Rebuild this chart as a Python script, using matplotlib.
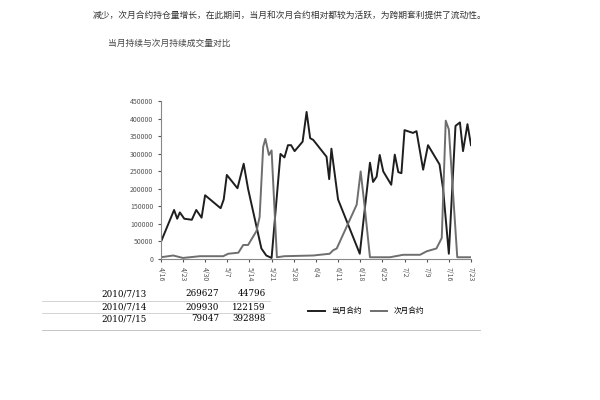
import matplotlib.pyplot as plt

plt.rcParams['font.family'] = ['Noto Sans CJK SC', 'DejaVu Sans']

# 当月合约 (trading-day index, volume)
cur_x = [0, 3, 3.7, 4.3, 5.3, 7, 8, 9.2, 10, 13.5, 14.2, 14.9, 17.3, 18.7, 19.7, 22.7, 23.8, 25,
         27, 27.9, 28.7, 29.4, 30.2, 32, 32.9, 33.7, 34.4, 37.4, 38, 38.5, 40, 44.9, 47.2, 47.9,
         48.7, 49.4, 50.2, 52, 52.8, 53.6, 54.3, 55, 56.9, 57.7, 59.2, 60.3, 62.9, 63.7, 65,
         66.5, 67.5, 68.2, 69.2, 70]
cur_y = [48, 140, 115, 133, 115, 112, 140, 118, 182, 145, 170, 240, 202, 272, 200, 30, 10, 3,
         300, 290, 325, 325, 308, 335, 420, 345, 340, 292, 228, 315, 170, 15, 275, 220,
         235, 297, 250, 212, 298, 248, 245, 368, 360, 365, 255, 325, 270, 200, 15,
         380, 390, 308, 385, 325]
# 次月合约
nxt_x = [0, 2.8, 5, 8.8, 14.1, 15.2, 17.5, 18.6, 19.7, 21.6, 22.3, 23.1, 23.6, 24.4, 25, 26.2,
         27.9, 34.4, 38.1, 38.9, 39.7, 44.2, 45.1, 46, 47.2, 51.7, 54.7, 58.5, 60, 62.2, 63.4,
         64.3, 65, 66.9, 70]
nxt_y = [5, 10, 3, 8, 8, 15, 18, 40, 40, 80, 120, 320, 343, 297, 310, 5,
         8, 10, 15, 25, 30, 155, 250, 150, 5, 5, 12, 12, 22, 30, 60,
         395, 370, 5, 5]
tick_labels = ['4/16', '4/23', '4/30', '5/7', '5/14', '5/21', '5/28', '6/4', '6/11', '6/18',
               '6/25', '7/2', '7/9', '7/16', '7/23']
table_rows = [['2010/7/13', '269627', '44796'],
              ['2010/7/14', '209930', '122159'],
              ['2010/7/15', '79047', '392898']]

fig = plt.figure(figsize=(6, 4), dpi=100)
fig.text(0.155, 0.955, '减少，次月合约持仓量增长，在此期间，当月和次月合约相对都较为活跃，为跨期套利提供了流动性。',
         fontsize=6.3, color='#333333')
fig.text(0.18, 0.885, '当月持续与次月持续成交量对比', fontsize=6.3, color='#444444')

ax = fig.add_axes([0.268, 0.3525, 0.517, 0.394])
ax.plot(cur_x, [v * 1000 for v in cur_y], color='#1e1e1e', lw=1.4, label='当月合约')
ax.plot(nxt_x, [v * 1000 for v in nxt_y], color='#6e6e6e', lw=1.4, label='次月合约')
ax.set_xlim(0, 70)
ax.set_ylim(0, 450000)
ax.set_yticks(range(0, 450001, 50000))
ax.set_xticks(range(0, 71, 5))
ax.set_xticklabels(tick_labels, rotation=270, fontsize=5)
ax.tick_params(axis='y', labelsize=5, colors='#555555', length=2)
ax.tick_params(axis='x', colors='#555555', length=2)
for s in ['top', 'right']:
    ax.spines[s].set_visible(False)
for s in ['left', 'bottom']:
    ax.spines[s].set_color('#888888')

# table under the chart
ys = [0.265, 0.232, 0.203]
for y, row in zip(ys, table_rows):
    fig.text(0.245, y, row[0], ha='right', va='center', fontsize=6.3, family='DejaVu Serif')
    fig.text(0.365, y, row[1], ha='right', va='center', fontsize=6.3, family='DejaVu Serif')
    fig.text(0.443, y, row[2], ha='right', va='center', fontsize=6.3, family='DejaVu Serif')
for y in [0.2475, 0.2175]:
    fig.add_artist(plt.Line2D([0.07, 0.45], [y, y], color='#cccccc', lw=0.6))
fig.add_artist(plt.Line2D([0.07, 0.8], [0.175, 0.175], color='#bbbbbb', lw=0.6))

fig.legend(loc='center', bbox_to_anchor=(0.61, 0.222), ncol=2, frameon=False,
           fontsize=5.5, handlelength=2.2, columnspacing=1.2)

fig.savefig('out.png')
